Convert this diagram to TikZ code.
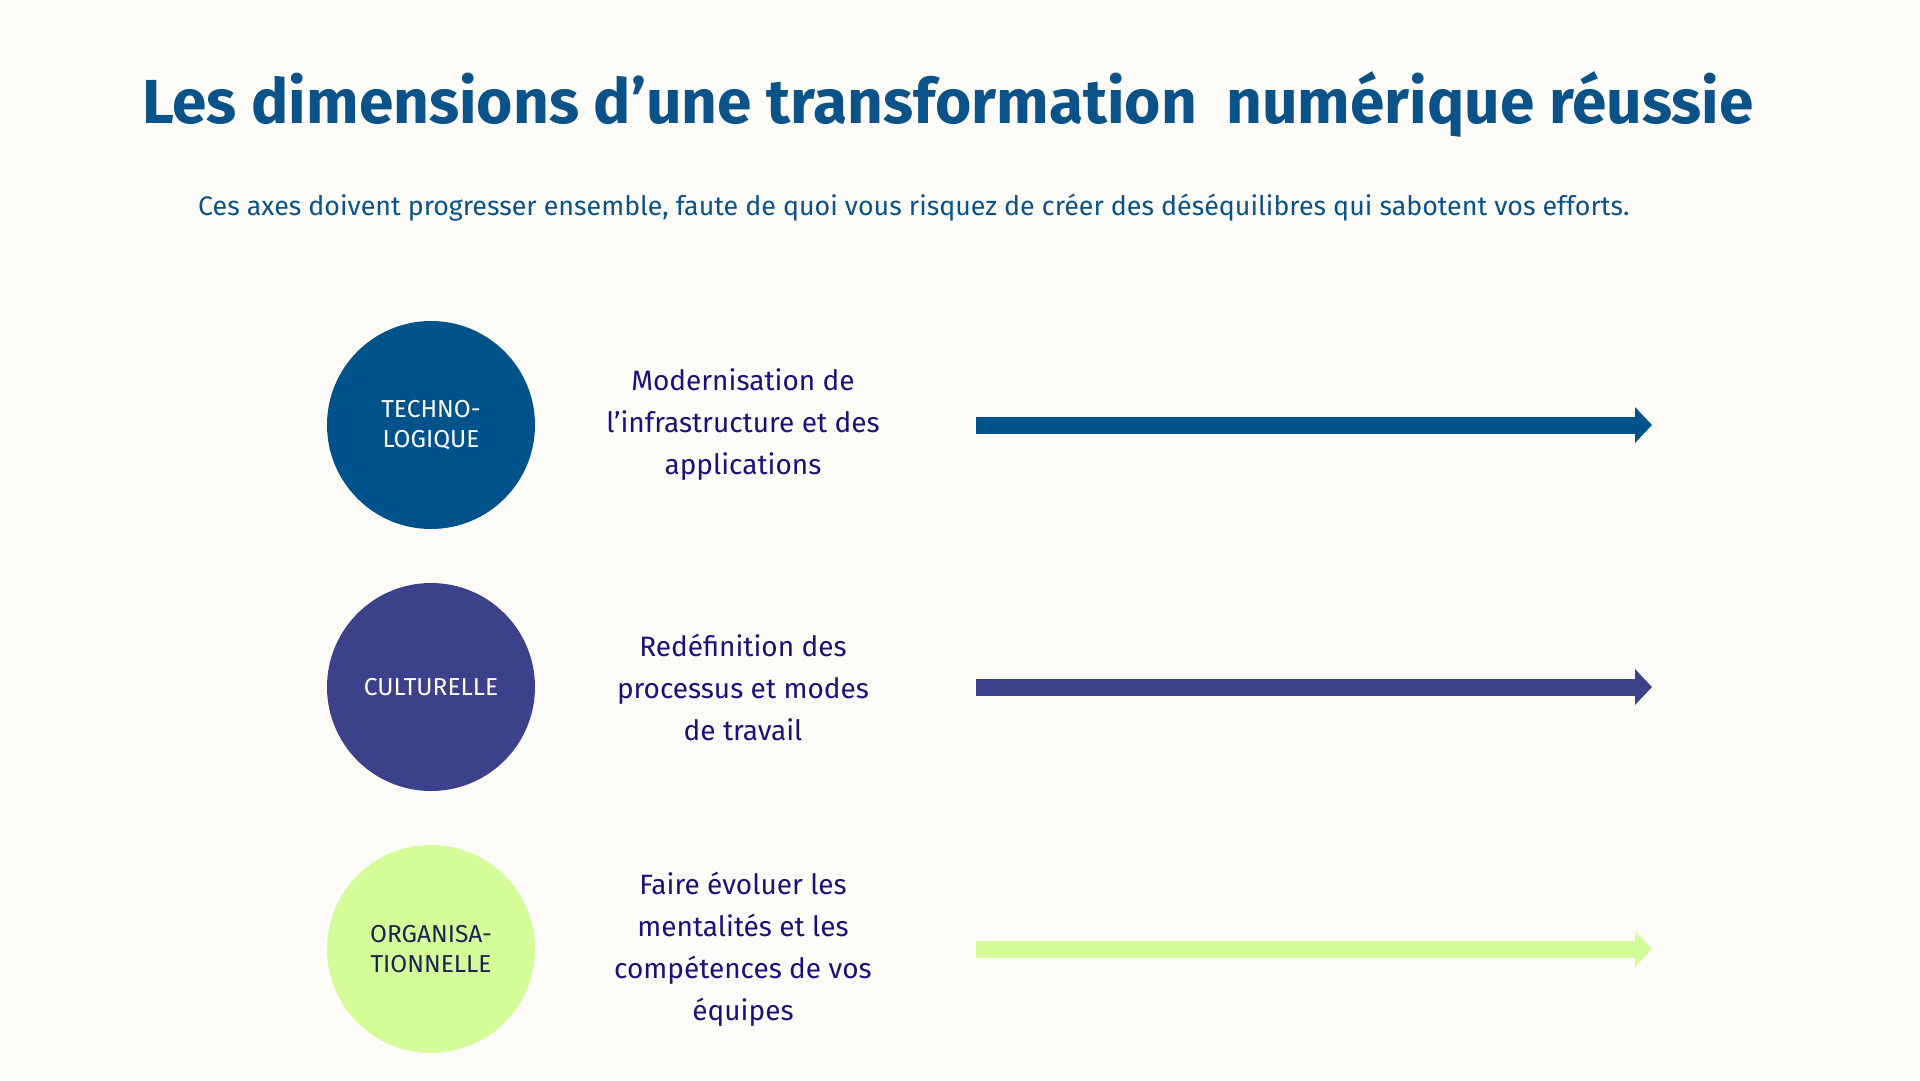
\documentclass[tikz,border=0pt]{standalone}
\usepackage{fontspec}
\setmainfont{Fira Sans}
\usetikzlibrary{arrows.meta}
\definecolor{bgc}{HTML}{FDFCF8}
\definecolor{titlec}{HTML}{0A5288}
\definecolor{techc}{HTML}{00538A}
\definecolor{cultc}{HTML}{3B4289}
\definecolor{orgc}{HTML}{D4FD9A}
\definecolor{descc}{HTML}{1E0F7A}
\definecolor{orgtext}{HTML}{1A2450}
\tikzset{
  dimcircle/.style={circle,minimum size=208pt,inner sep=0pt,align=center,
    font=\fontsize{24.5}{30}\selectfont},
  desctext/.style={align=center,text=descc,font=\fontsize{28}{42}\selectfont},
  axisarrow/.style={line width=17pt,-{Triangle[length=17pt,width=35pt]}},
}
\begin{document}
\begin{tikzpicture}[x=1pt,y=-1pt]
\fill[bgc] (0,0) rectangle (1920,1080);
\useasboundingbox (0,0) rectangle (1920,1080);
\node[anchor=base west,text=titlec,inner sep=0pt,
  font=\fontsize{62.2}{76}\selectfont\bfseries] (title) at (142,123)
  {Les dimensions d’une transformation\ \ numérique réussie};
\node[anchor=base west,text=titlec,inner sep=0pt,
  font=\fontsize{26.8}{30}\selectfont] (sub) at (198,215)
  {Ces axes doivent progresser ensemble, faute de quoi vous risquez de créer des déséquilibres qui sabotent vos efforts.};
% row 1
\node[dimcircle,fill=techc,text=white] (c1) at (431,425) {TECHNO-\\LOGIQUE};
\node[desctext] (d1) at (743,425) {Modernisation de\\l’infrastructure et des\\applications};
\coordinate (a1s) at (976,425);
\coordinate (a1e) at (1652,425);
\draw[axisarrow,draw=techc,fill=techc] (a1s) -- (a1e);
% row 2
\node[dimcircle,fill=cultc,text=white] (c2) at (431,687) {CULTURELLE};
\node[desctext] (d2) at (743,687) {Redéfinition des\\processus et modes\\de travail};
\coordinate (a2s) at (976,687);
\coordinate (a2e) at (1652,687);
\draw[axisarrow,draw=cultc,fill=cultc] (a2s) -- (a2e);
% row 3
\node[dimcircle,fill=orgc,text=orgtext] (c3) at (431,949) {ORGANISA-\\TIONNELLE};
\node[desctext] (d3) at (743,949) {Faire évoluer les\\mentalités et les\\compétences de vos\\équipes};
\coordinate (a3s) at (976,949);
\coordinate (a3e) at (1652,949);
\draw[axisarrow,draw=orgc,fill=orgc] (a3s) -- (a3e);
\end{tikzpicture}
\end{document}
